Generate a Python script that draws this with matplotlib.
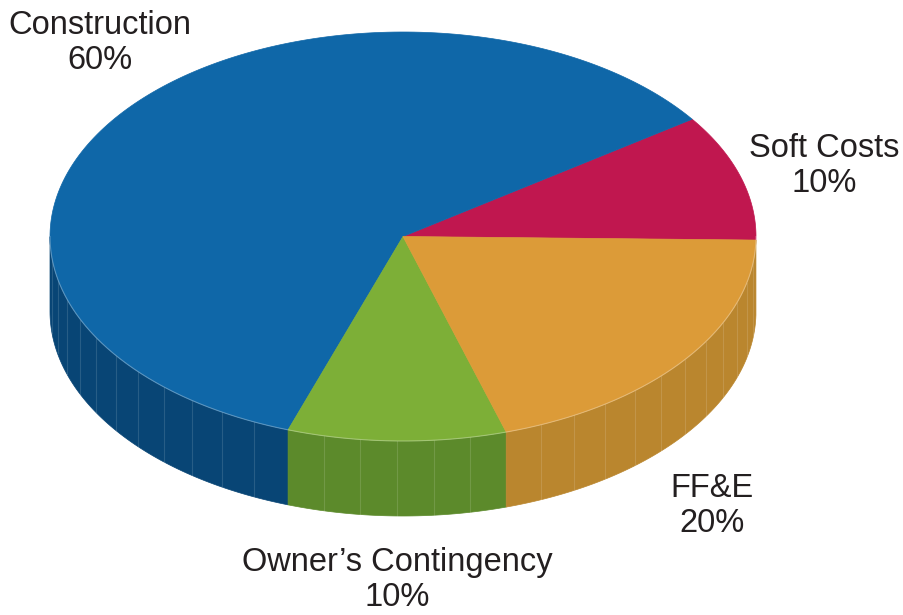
import numpy as np
import matplotlib
matplotlib.use("Agg")
import matplotlib.pyplot as plt
from matplotlib.patches import Polygon

# datos del grafico
categorias = ["Soft Costs", "Construction", "Owner\u2019s Contingency", "FF&E"]
porcentajes = [10, 60, 10, 20]
colores_top = ["#C0174F", "#0F67A8", "#7DAF37", "#DC9B38"]
colores_lado = ["#8E1039", "#084575", "#5C8A2B", "#BA862E"]
# posicion de etiquetas (pixeles)
pos_etiquetas = [(824, 166), (100, 43), (397, 580), (712, 506)]

W, H = 904, 615
cx, cy = 403, 236.5
rx, ry = 353, 204.5
prof = 75
inicio = -1.0

def punto(t, dz=0):
    t = np.radians(t)
    return cx + rx * np.cos(t), cy - ry * np.sin(t) + dz

fig = plt.figure(figsize=(W / 100, H / 100), dpi=100)
ax = fig.add_axes([0, 0, 1, 1])
ax.set_xlim(0, W)
ax.set_ylim(H, 0)
ax.axis("off")

fracs = np.array(porcentajes) / sum(porcentajes)
angulos = inicio + 360 * np.concatenate([[0], np.cumsum(fracs)])

#Paredes laterales (solo la mitad frontal)
for i in range(len(porcentajes)):
    a0, a1 = angulos[i], angulos[i + 1]
    lo = max(a0, 180)
    hi = min(a1, 360)
    if hi <= lo:
        continue
    ts = np.linspace(lo, hi, 80)
    arriba = [punto(t) for t in ts]
    abajo = [punto(t, prof) for t in ts[::-1]]
    ax.add_patch(Polygon(arriba + abajo, closed=True, fc=colores_lado[i],
                         ec=colores_lado[i], lw=0.5, zorder=1))
    #facetas
    n = max(1, int(round((hi - lo) / 6.0)))
    for t in np.linspace(lo, hi, n + 1)[1:-1]:
        x0, y0 = punto(t)
        x1, y1 = punto(t, prof)
        ax.plot([x0, x1], [y0, y1], color="white", alpha=0.13, lw=0.8, zorder=2)

#Cara superior
for i in range(len(porcentajes)):
    ts = np.linspace(angulos[i], angulos[i + 1], 200)
    pts = [(cx, cy)] + [punto(t) for t in ts]
    ax.add_patch(Polygon(pts, closed=True, fc=colores_top[i],
                         ec=colores_top[i], lw=0.5, zorder=3))

#borde claro de la cara superior
ts = np.linspace(180, 360, 300)
bx, by = zip(*[punto(t) for t in ts])
ax.plot(bx, by, color="white", alpha=0.3, lw=0.8, zorder=4)

#Etiquetas
for cat, p, (x, y) in zip(categorias, porcentajes, pos_etiquetas):
    ax.text(x, y, f"{cat}\n{p}%", ha="center", va="center", fontsize=23.5,
            family="Liberation Sans", color="#231F20", linespacing=1.2, zorder=5)

fig.savefig("out.png", dpi=100)
